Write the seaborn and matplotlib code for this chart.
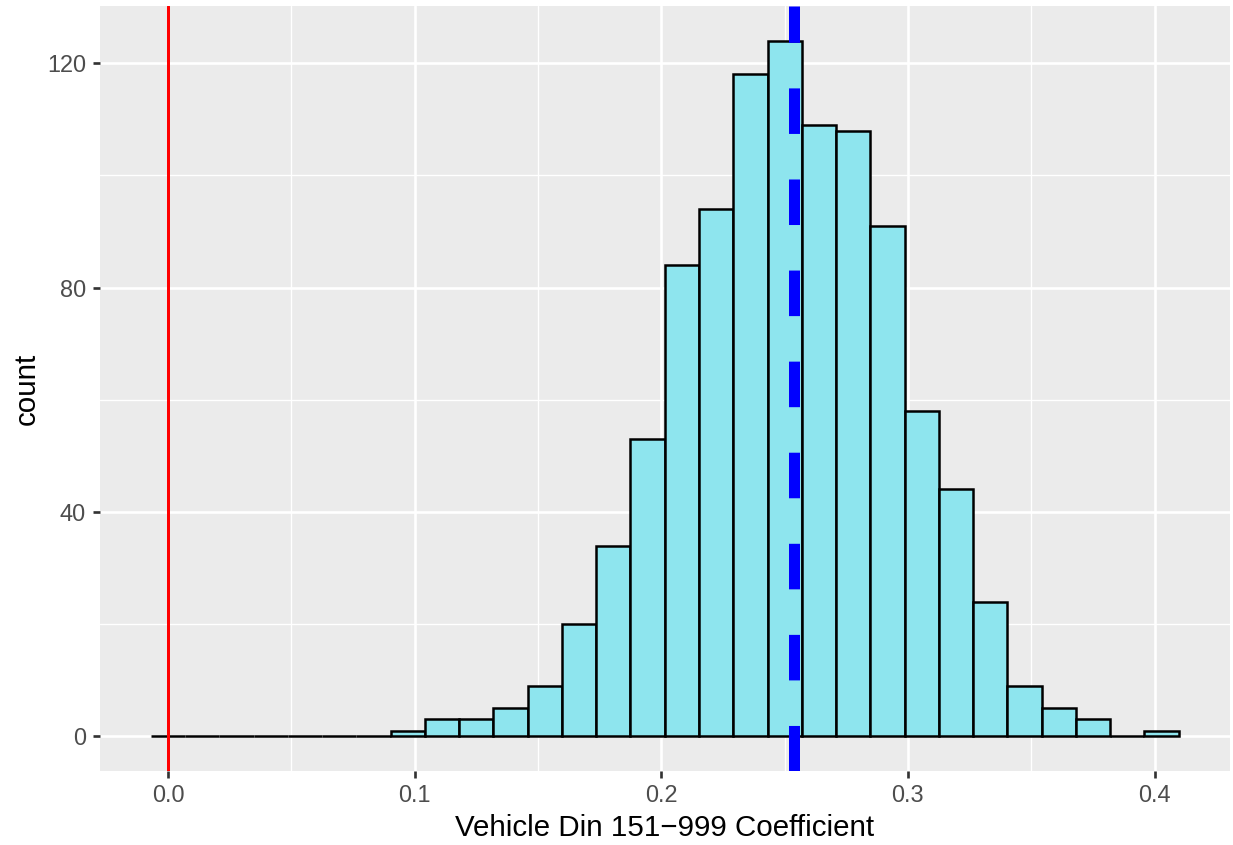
import numpy as np
import pandas as pd
import matplotlib
matplotlib.use("Agg")
import matplotlib.pyplot as plt
from matplotlib.ticker import MultipleLocator, FixedLocator
import seaborn as sns

# ---- data ----
bin_start = -0.00689
bin_width = 0.013888
counts = [0, 0, 0, 0, 0, 0, 0, 1, 3, 3, 5, 9, 20, 34, 53, 84, 94, 118, 124,
          109, 108, 91, 58, 44, 24, 9, 5, 3, 0, 1]
mean_coef = 0.2539
zero_line = 0.0
x_ticks = [0.0, 0.1, 0.2, 0.3, 0.4]
x_tick_labels = ["0.0", "0.1", "0.2", "0.3", "0.4"]
y_ticks = [0, 40, 80, 120]
y_tick_labels = ["0", "40", "80", "120"]
x_title = "Vehicle Din 151\u2212999 Coefficient"
y_title = "count"

n = len(counts)
edges = bin_start + np.arange(n + 1) * bin_width
centers = (edges[:-1] + edges[1:]) / 2
df = pd.DataFrame({"coef": centers, "n": counts})

sns.set_theme(style="darkgrid")
plt.rcParams["font.family"] = ["Liberation Sans", "DejaVu Sans"]

DPI = 180
fig = plt.figure(figsize=(1233 / DPI, 845 / DPI), dpi=DPI)
ax = fig.add_axes([99.5 / 1233, 1 - 771 / 845, 1130.5 / 1233, 765 / 845])
ax.set_facecolor("#EBEBEB")

sns.histplot(data=df, x="coef", weights="n", bins=list(edges), ax=ax,
             color="#8EE5EE", edgecolor="black", linewidth=1.0, alpha=1)

ax.axvline(zero_line, color="red", lw=1.2, zorder=4)
ax.axvline(mean_coef, color="blue", lw=4.4, linestyle=(0, (4.14, 4.14)),
           zorder=5)

lo, hi = edges[0], edges[-1]
pad = 0.05 * (hi - lo)
ax.set_xlim(lo - pad, hi + pad)
ymax = max(counts)
ax.set_ylim(-0.05 * ymax, ymax * 1.05)

ax.xaxis.set_major_locator(FixedLocator(x_ticks))
ax.set_xticklabels(x_tick_labels)
ax.yaxis.set_major_locator(FixedLocator(y_ticks))
ax.set_yticklabels(y_tick_labels)
ax.xaxis.set_minor_locator(MultipleLocator(0.05))
ax.yaxis.set_minor_locator(FixedLocator([20, 60, 100]))

ax.set_axisbelow(True)
ax.grid(which="major", color="white", lw=1.07)
ax.grid(which="minor", color="white", lw=0.53)
for s in ax.spines.values():
    s.set_visible(False)

ax.tick_params(which="major", length=2.75, width=1.07, color="#333333",
               labelcolor="#4D4D4D", labelsize=9.4, pad=2.6,
               bottom=True, left=True)
ax.tick_params(which="minor", length=0)

ax.set_xlabel(x_title, fontsize=11.8, color="black", labelpad=2.75)
ax.set_ylabel(y_title, fontsize=11.8, color="black", labelpad=2.75)

fig.savefig("out.png", dpi=DPI)
